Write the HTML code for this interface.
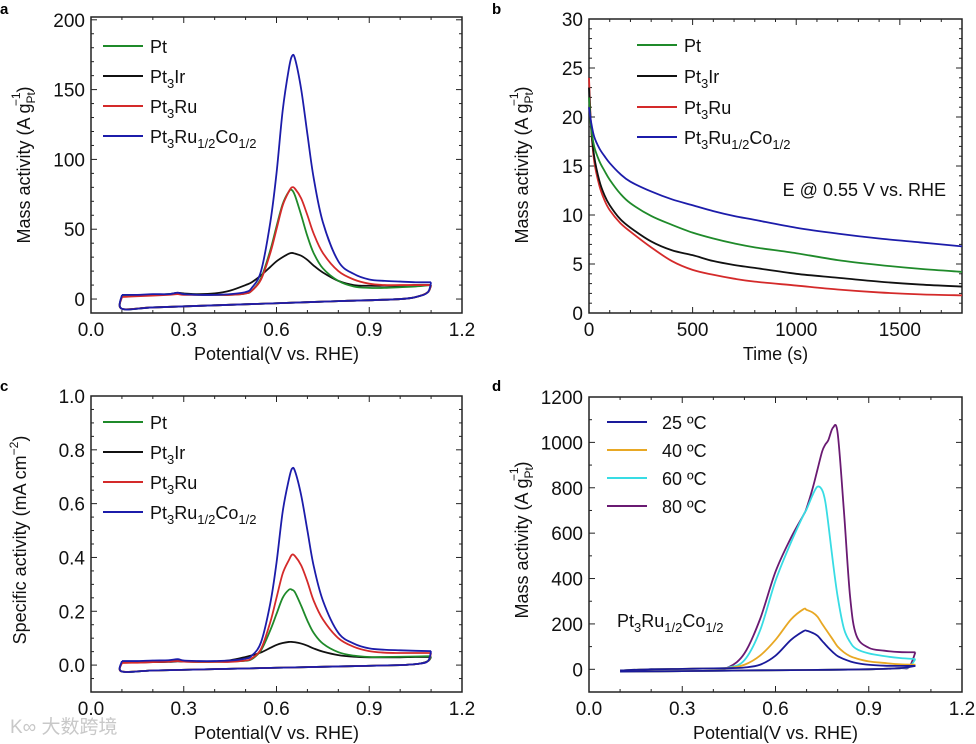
<!DOCTYPE html>
<html><head><meta charset="utf-8"><style>
html,body{margin:0;padding:0;background:#fff;}
svg{display:block;font-family:"Liberation Sans",Arial,sans-serif;}
</style></head><body>
<svg id="fig" width="976" height="744" viewBox="0 0 976 744" xmlns="http://www.w3.org/2000/svg"></svg>
<script>
// ---------- Panel a data (mass activity CV) ----------
const aFwdX = [0.1,0.15,0.2,0.25,0.28,0.3,0.35,0.4,0.45,0.5,0.52,0.55,0.58,0.6,0.62,0.64,0.65,0.66,0.68,0.7,0.72,0.75,0.8,0.85,0.9,0.95,1.0,1.05,1.1];
const aPt    = [2,2.5,3,3.5,4,3.5,3,3,3,4,6,15,35,52,68,77,78,74,60,45,33,22,13,9,8,8,8.5,9,10];
const aPt3Ir = [2,2.5,3,3.5,4.5,4,3.5,4,6,10,12,17,23,27,30,32.5,33,32.5,31,28,24,19,13,10,9.5,9.5,9.5,10,10];
const aPt3Ru = [1.5,2,2.5,3,3.5,3,3,3,3,4,6,14,33,50,67,77,80,79,72,60,47,33,20,14,11,10,10,10,10];
const aPtRuCo= [3,3,3.5,3.5,4.5,3.5,3,3,3.5,5,8,20,55,90,135,165,174,172,150,118,87,55,27,18,14,13,12.5,12,12];
const aRevX = [1.1,1.09,1.06,1.0,0.8,0.6,0.4,0.2,0.1,0.1];
const aRev  = [10,5,2,0,-1.5,-3,-4.5,-6,-7,2];
// ---------- Panel b data (chronoamperometry) ----------
const bT = [0,10,25,50,75,100,150,200,300,400,500,600,700,800,1000,1200,1400,1600,1800];
const bPtRuCo= [21,19.5,18,16.8,16,15.3,14.2,13.4,12.4,11.6,11.0,10.4,9.9,9.5,8.7,8.1,7.6,7.2,6.8];
const bPt    = [22,19,17,15.5,14.5,13.6,12.2,11.2,9.9,9,8.2,7.6,7.1,6.7,6.1,5.4,4.9,4.5,4.2];
const bPt3Ir = [23,19,16,13.5,12,11,9.6,8.7,7.3,6.4,5.9,5.3,4.9,4.6,4,3.6,3.2,2.9,2.7];
const bPt3Ru = [24,19,15.5,13,11.5,10.5,9.2,8.3,6.7,5.3,4.4,3.9,3.5,3.2,2.8,2.4,2.1,1.9,1.8];
// ---------- Panel c data (specific activity CV) ----------
const cPt    = [0.01,0.01,0.012,0.014,0.016,0.014,0.012,0.012,0.013,0.016,0.022,0.055,0.13,0.19,0.25,0.28,0.28,0.27,0.22,0.165,0.12,0.08,0.048,0.035,0.03,0.03,0.031,0.032,0.033];
const cPt3Ir = [0.01,0.01,0.011,0.012,0.014,0.013,0.012,0.013,0.018,0.03,0.036,0.047,0.064,0.075,0.082,0.086,0.086,0.085,0.08,0.072,0.062,0.05,0.037,0.031,0.029,0.029,0.029,0.03,0.03];
const cPt3Ru = [0.008,0.009,0.011,0.013,0.015,0.013,0.012,0.012,0.012,0.017,0.025,0.06,0.16,0.25,0.34,0.39,0.41,0.405,0.37,0.31,0.24,0.17,0.1,0.068,0.052,0.046,0.045,0.045,0.045];
const cPtRuCo= [0.015,0.015,0.017,0.018,0.022,0.017,0.015,0.015,0.017,0.024,0.035,0.085,0.23,0.38,0.57,0.69,0.73,0.72,0.63,0.5,0.37,0.24,0.12,0.08,0.062,0.057,0.055,0.053,0.052];
const cRev  = [0.03,0.015,0.005,0,-0.005,-0.01,-0.015,-0.02,-0.024,0.012];
// ---------- Panel d data (temperature CV) ----------
const dFwdX = [0.1,0.2,0.3,0.4,0.45,0.5,0.55,0.6,0.65,0.69,0.7,0.72,0.735,0.75,0.76,0.77,0.785,0.8,0.82,0.84,0.86,0.9,0.95,1.0,1.05];
const d25 = [-5,0,2,4,5,8,20,60,130,168,170,160,148,125,110,95,75,58,45,35,28,20,16,15,15];
const d40 = [-5,0,2,4,6,20,60,130,220,265,262,250,232,200,180,160,130,100,75,58,48,35,28,22,20];
const d60 = [-5,0,2,4,8,40,170,390,560,680,705,770,805,790,740,640,470,320,180,120,90,70,58,50,45];
const d80 = [-5,0,2,4,10,70,220,430,580,680,710,800,880,960,990,1010,1065,1040,700,320,150,95,82,76,75];
const dRevX = [1.05,1.03,1.0,0.9,0.7,0.5,0.3,0.1];
const dRev  = [20,10,5,0,-3,-5,-8,-10];

const svg = document.getElementById('fig');
const NS = 'http://www.w3.org/2000/svg';
function mk(tag, attrs, parent){
  const e = document.createElementNS(NS, tag);
  for (const k in attrs) e.setAttribute(k, attrs[k]);
  (parent||svg).appendChild(e);
  return e;
}
function smoothPath(pts){
  let d = 'M'+pts[0][0].toFixed(2)+','+pts[0][1].toFixed(2);
  for (let i=0;i<pts.length-1;i++){
    const p0=pts[Math.max(0,i-1)], p1=pts[i], p2=pts[i+1], p3=pts[Math.min(pts.length-1,i+2)];
    const c1=[p1[0]+(p2[0]-p0[0])/6, p1[1]+(p2[1]-p0[1])/6];
    const c2=[p2[0]-(p3[0]-p1[0])/6, p2[1]-(p3[1]-p1[1])/6];
    d+=' C'+c1[0].toFixed(2)+','+c1[1].toFixed(2)+' '+c2[0].toFixed(2)+','+c2[1].toFixed(2)+' '+p2[0].toFixed(2)+','+p2[1].toFixed(2);
  }
  return d;
}
function makeAxes(o){
  const sx = v => o.px0 + (v-o.xmin)/(o.xmax-o.xmin)*(o.px1-o.px0);
  const sy = v => o.py1 - (v-o.ymin)/(o.ymax-o.ymin)*(o.py1-o.py0);
  const g = mk('g',{});
  
  
  const eps=1e-9;
  for (let v=o.xmin; v<=o.xmax+eps; v+=o.xMinor){
    const x=sx(v); const isMaj = Math.abs(Math.round((v-o.xmin)/o.xMajor)*o.xMajor-(v-o.xmin))<1e-6;
    const L = isMaj?6:3;
    mk('line',{x1:x,x2:x,y1:o.py1,y2:o.py1-L,stroke:'#222','stroke-width':1},g);
    mk('line',{x1:x,x2:x,y1:o.py0,y2:o.py0+L,stroke:'#222','stroke-width':1},g);
    if (isMaj){
      const t = mk('text',{x:x,y:o.py1+23,'text-anchor':'middle','font-size':19,fill:'#111'},g);
      t.textContent = o.xfmt(v);
      
      
    }
  }
  const ys = Math.ceil((o.ymin-eps)/o.yMinor)*o.yMinor;
  for (let v=ys; v<=o.ymax+eps; v+=o.yMinor){
    const y=sy(v); const isMaj = Math.abs(Math.round(v/o.yMajor)*o.yMajor-v)<1e-6;
    const L = isMaj?6:3;
    mk('line',{x1:o.px0,x2:o.px0+L,y1:y,y2:y,stroke:'#222','stroke-width':1},g);
    mk('line',{x1:o.px1,x2:o.px1-L,y1:y,y2:y,stroke:'#222','stroke-width':1},g);
    if (isMaj){
      const t = mk('text',{x:o.px0-6,y:y+7,'text-anchor':'end','font-size':19,fill:'#111'},g);
      t.textContent = o.yfmt(v);
      
      
    }
  }
  const r = mk('rect',{x:o.px0,y:o.py0,width:o.px1-o.px0,height:o.py1-o.py0,fill:'none',stroke:'#222','stroke-width':1.5},g);
  
  
  const xt = mk('text',{x:(o.px0+o.px1)/2,y:o.py1+47,'text-anchor':'middle','font-size':18,fill:'#111'},g);
  xt.textContent = o.xtitle;
  
  
  return {sx, sy};
}
function drawSeries(ax, xs, ys, color, name, w){
  const pts = xs.map((x,i)=>[ax.sx(x), ax.sy(ys[i])]);
  const p = mk('path',{d:smoothPath(pts),fill:'none',stroke:color,'stroke-width':w||1.8,'stroke-linejoin':'round'});
  
  
}
function yTitle(cx, cy, pre, sub, sup, name){
  const t = mk('text',{transform:'translate('+cx+','+cy+') rotate(-90)','text-anchor':'middle','font-size':18,fill:'#111'});
  
  
  const a = mk('tspan',{},t); a.textContent = pre;
  if (sub){
    const b = mk('tspan',{dy:5,'font-size':12},t); b.textContent = sub;
    const c = mk('tspan',{dx:-14,dy:-15,'font-size':12},t); c.textContent = sup;
    const d = mk('tspan',{dy:10},t); d.textContent = ')';
  } else {
    const c = mk('tspan',{dy:-8,'font-size':12},t); c.textContent = sup;
    const d = mk('tspan',{dy:8},t); d.textContent = ')';
  }
}
function label(x,y,txt,name){
  const t = mk('text',{x:x,y:y,'font-size':15,'font-weight':'bold',fill:'#000'});
  t.textContent = txt;
  
  
}
function chem(x,y,parts,name,size){
  const t = mk('text',{x:x,y:y,'font-size':size||18,fill:'#111'});
  
  
  parts.forEach(p=>{
    const s = mk('tspan',{},t);
    if (p[1]==='sub'){ s.setAttribute('dy',5); s.setAttribute('font-size',13); }
    else if (p[1]==='back'){ s.setAttribute('dy',-5); }
    s.textContent = p[0];
  });
}
function legendEntry(x1,x2,y,color,parts,tx,name){
  const l = mk('line',{x1:x1,x2:x2,y1:y,y2:y,stroke:color,'stroke-width':2});
  
  
  chem(tx,y+7,parts,name);
}
const nm = {
  Pt:[['Pt']],
  Ir:[['Pt'],['3','sub'],['Ir','back']],
  Ru:[['Pt'],['3','sub'],['Ru','back']],
  RuCo:[['Pt'],['3','sub'],['Ru','back'],['1/2','sub'],['Co','back'],['1/2','sub']]
};

// ---------- Panel a ----------
label(0,14,'a','panel-a-label');
const A = makeAxes({name:'panel-a',px0:91,px1:462,py0:17,py1:313,xmin:0,xmax:1.2,ymin:-10,ymax:202,xMajor:0.3,xMinor:0.1,yMajor:50,yMinor:10,
  xfmt:v=>v.toFixed(1),yfmt:v=>String(Math.round(v)),xtitle:'Potential(V vs. RHE)'});
yTitle(30,165,'Mass activity (A g','Pt','−1','panel-a-y-axis-title');
[[aPt3Ir,'#111','pt3ir'],[aPt,'#1f8a2a','pt'],[aPt3Ru,'#d42a2a','pt3ru'],[aPtRuCo,'#1c1caa','pt3ruco']].forEach(s=>{
  drawSeries(A, aFwdX, s[0], s[1], 'panel-a-'+s[2]+'-forward');
  const rev = aRev.map((v,i)=> i===0 ? s[0][s[0].length-1] : (i===aRev.length-1 ? s[0][0] : v));
  drawSeries(A, aRevX, rev, s[1], 'panel-a-'+s[2]+'-reverse');
});
legendEntry(103,143,46,'#1f8a2a',nm.Pt,150,'panel-a-legend-pt');
legendEntry(103,143,76,'#111',nm.Ir,150,'panel-a-legend-pt3ir');
legendEntry(103,143,106,'#d42a2a',nm.Ru,150,'panel-a-legend-pt3ru');
legendEntry(103,143,136,'#1c1caa',nm.RuCo,150,'panel-a-legend-pt3ruco');

// ---------- Panel b ----------
label(492,14,'b','panel-b-label');
const B = makeAxes({name:'panel-b',px0:589,px1:962,py0:19,py1:313,xmin:0,xmax:1800,ymin:0,ymax:30,xMajor:500,xMinor:100,yMajor:5,yMinor:1,
  xfmt:v=>String(Math.round(v)),yfmt:v=>String(Math.round(v)),xtitle:'Time (s)'});
yTitle(528,165,'Mass activity (A g','Pt','−1','panel-b-y-axis-title');
[[bPt3Ru,'#d42a2a','pt3ru'],[bPt3Ir,'#111','pt3ir'],[bPt,'#1f8a2a','pt'],[bPtRuCo,'#1c1caa','pt3ruco']].forEach(s=>{
  drawSeries(B, bT, s[0], s[1], 'panel-b-'+s[2]+'-line');
});
legendEntry(637,677,45,'#1f8a2a',nm.Pt,684,'panel-b-legend-pt');
legendEntry(637,677,76,'#111',nm.Ir,684,'panel-b-legend-pt3ir');
legendEntry(637,677,107,'#d42a2a',nm.Ru,684,'panel-b-legend-pt3ru');
legendEntry(637,677,137,'#1c1caa',nm.RuCo,684,'panel-b-legend-pt3ruco');
const eb = mk('text',{x:946,y:196,'text-anchor':'end','font-size':18,fill:'#111'});
eb.textContent = 'E @ 0.55 V vs. RHE';



// ---------- Panel c ----------
label(0,391,'c','panel-c-label');
const C = makeAxes({name:'panel-c',px0:91,px1:462,py0:396,py1:692,xmin:0,xmax:1.2,ymin:-0.1,ymax:1.0,xMajor:0.3,xMinor:0.1,yMajor:0.2,yMinor:0.05,
  xfmt:v=>v.toFixed(1),yfmt:v=>v.toFixed(1),xtitle:'Potential(V vs. RHE)'});
yTitle(26,540,'Specific activity (mA cm','', '−2','panel-c-y-axis-title');
[[cPt3Ir,'#111','pt3ir'],[cPt,'#1f8a2a','pt'],[cPt3Ru,'#d42a2a','pt3ru'],[cPtRuCo,'#1c1caa','pt3ruco']].forEach(s=>{
  drawSeries(C, aFwdX, s[0], s[1], 'panel-c-'+s[2]+'-forward');
  const rev = cRev.map((v,i)=> i===0 ? s[0][s[0].length-1] : (i===cRev.length-1 ? s[0][0] : v));
  drawSeries(C, aRevX, rev, s[1], 'panel-c-'+s[2]+'-reverse');
});
legendEntry(103,143,422,'#1f8a2a',nm.Pt,150,'panel-c-legend-pt');
legendEntry(103,143,452,'#111',nm.Ir,150,'panel-c-legend-pt3ir');
legendEntry(103,143,482,'#d42a2a',nm.Ru,150,'panel-c-legend-pt3ru');
legendEntry(103,143,512,'#1c1caa',nm.RuCo,150,'panel-c-legend-pt3ruco');

// ---------- Panel d ----------
label(492,391,'d','panel-d-label');
const D = makeAxes({name:'panel-d',px0:589,px1:962,py0:397,py1:692,xmin:0,xmax:1.2,ymin:-100,ymax:1200,xMajor:0.3,xMinor:0.1,yMajor:200,yMinor:100,
  xfmt:v=>v.toFixed(1),yfmt:v=>String(Math.round(v)),xtitle:'Potential(V vs. RHE)'});
yTitle(528,540,'Mass activity (A g','Pt','−1','panel-d-y-axis-title');
[[d80,'#6a1a72','80c'],[d60,'#38dce4','60c'],[d40,'#e8a824','40c'],[d25,'#1a1a9a','25c']].forEach(s=>{
  drawSeries(D, dFwdX, s[0], s[1], 'panel-d-'+s[2]+'-forward');
  const rev = dRev.map((v,i)=> i===0 ? s[0][s[0].length-1] : v);
  drawSeries(D, dRevX, rev, s[1], 'panel-d-'+s[2]+'-reverse');
});
legendEntry(607,647,422,'#1a1a9a',[['25 ºC']],662,'panel-d-legend-25c');
legendEntry(607,647,450,'#e8a824',[['40 ºC']],662,'panel-d-legend-40c');
legendEntry(607,647,478,'#38dce4',[['60 ºC']],662,'panel-d-legend-60c');
legendEntry(607,647,506,'#6a1a72',[['80 ºC']],662,'panel-d-legend-80c');
chem(617,627,nm.RuCo,'panel-d-sample-label');

// watermark
const wm = mk('text',{x:10,y:733,'font-size':19,fill:'#c8c8c8','font-family':'"Liberation Sans","Noto Sans CJK SC",sans-serif'});
wm.textContent = 'K∞ 大数跨境';


</script>
</body></html>
